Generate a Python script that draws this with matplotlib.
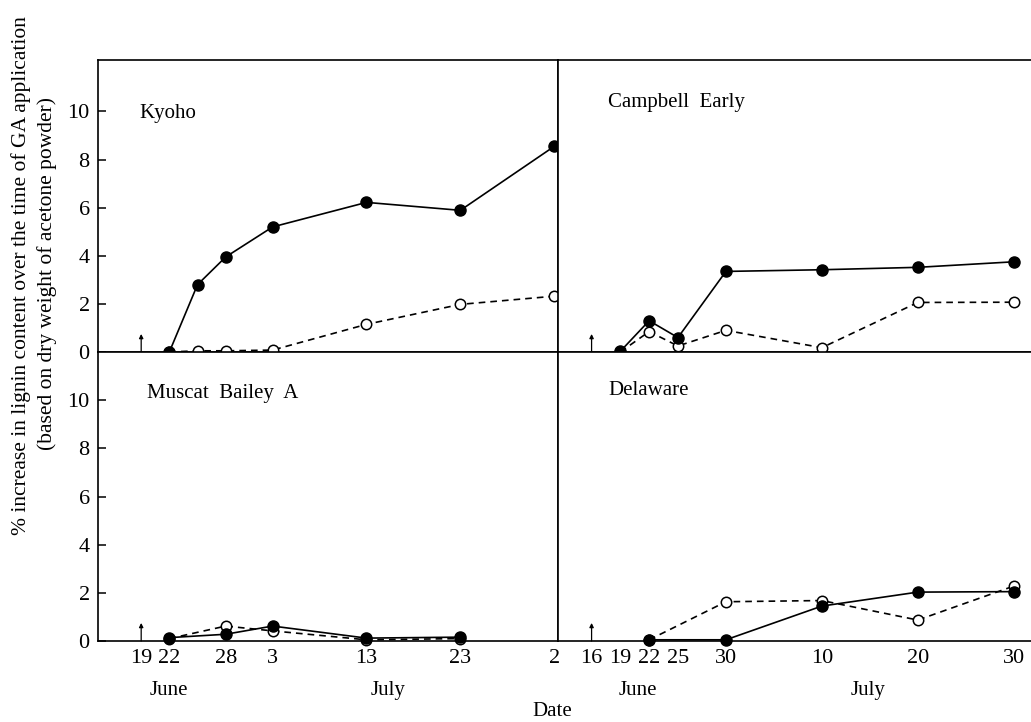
import matplotlib
matplotlib.use('Agg')
import matplotlib.pyplot as plt
from matplotlib.transforms import blended_transform_factory

plt.rcParams['font.family'] = ['Liberation Serif', 'DejaVu Serif']

# dates as days since June 1 (June 19 = 18, July 3 = 32, Aug 2 = 62)
diasKyoho = [21, 24, 27, 32, 42, 52, 62]
kyohoGA = [0.0, 2.8, 3.95, 5.2, 6.22, 5.89, 8.55]
kyohoCtrl = [0.0, 0.05, 0.05, 0.08, 1.15, 1.98, 2.32]

diasMuscat = [21, 27, 32, 42, 52]
muscatGA = [0.14, 0.28, 0.62, 0.12, 0.16]
muscatCtrl = [0.1, 0.62, 0.42, 0.05, 0.1]

diasCampbell = [18, 21, 24, 29, 39, 49, 59]
campbellGA = [0.03, 1.3, 0.6, 3.35, 3.42, 3.52, 3.75]
campbellCtrl = [0.0, 0.85, 0.25, 0.9, 0.18, 2.06, 2.07]

diasDelaware = [21, 29, 39, 49, 59]
delawareGA = [0.05, 0.05, 1.45, 2.03, 2.05]
delawareCtrl = [0.05, 1.63, 1.68, 0.87, 2.28]

# GA application (arrows)
gaKyoho = 18
gaCampbell = 15

ticksIzq = [18, 21, 27, 32, 42, 52, 62]
etiquetasIzq = ['19', '22', '28', '3', '13', '23', '2']
ticksDer = [15, 18, 21, 24, 29, 39, 49, 59]
etiquetasDer = ['16', '19', '22', '25', '30', '10', '20', '30']

fig = plt.figure(figsize=(10.31, 7.22), dpi=100)
W, H = 1031, 722
x0, xm, x1 = 98, 558, 1031
ytop, ymid, ybot = 60, 352, 641

def caja(xa, xb, ya, yb):
    return [xa / W, 1 - yb / H, (xb - xa) / W, (yb - ya) / H]

axKy = fig.add_axes(caja(x0, xm, ytop, ymid))
axCa = fig.add_axes(caja(xm, x1, ytop, ymid))
axMu = fig.add_axes(caja(x0, xm, ymid, ybot))
axDe = fig.add_axes(caja(xm, x1, ymid, ybot))

paneles = [
    (axKy, 'Kyoho', diasKyoho, kyohoGA, kyohoCtrl, gaKyoho, (0.089, 0.818)),
    (axCa, 'Campbell  Early', diasCampbell, campbellGA, campbellCtrl, gaCampbell, (0.106, 0.853)),
    (axMu, 'Muscat  Bailey  A', diasMuscat, muscatGA, muscatCtrl, gaKyoho, (0.107, 0.858)),
    (axDe, 'Delaware', diasDelaware, delawareGA, delawareCtrl, gaCampbell, (0.106, 0.868)),
]

for ax, nombre, dias, ga, ctrl, flecha, pos in paneles:
    ax.plot(dias, ctrl, color='black', lw=1.2, ls=(0, (4, 3)), marker='o',
            ms=7.5, mfc='white', mec='black', mew=1.1, clip_on=False, zorder=3)
    ax.plot(dias, ga, color='black', lw=1.2, marker='o', ms=8, mfc='black',
            mec='black', clip_on=False, zorder=4)
    ax.annotate('', xy=(flecha, 0.75), xytext=(flecha, 0),
                arrowprops=dict(arrowstyle='-|>', color='black', lw=0.9,
                                mutation_scale=6, shrinkA=0, shrinkB=0))
    ax.text(pos[0], pos[1], nombre, transform=ax.transAxes, fontsize=15,
            va='center', ha='left')
    for s in ax.spines.values():
        s.set_linewidth(1.2)

for ax in (axKy, axMu):
    ax.set_xlim(13.4, 62.4)
    ax.set_yticks([0, 2, 4, 6, 8, 10])
    ax.tick_params(axis='y', direction='in', length=6, width=1.1, labelsize=16, pad=6)
for ax in (axCa, axDe):
    ax.set_xlim(11.5, 60.8)
    ax.set_yticks([])
    ax.spines['right'].set_visible(False)

axKy.set_ylim(0, 12.14)
axCa.set_ylim(0, 12.14)
axMu.set_ylim(0, 12.0)
axDe.set_ylim(0, 12.0)

for ax in (axKy, axCa):
    ax.set_xticks([])

axMu.set_xticks(ticksIzq)
axMu.set_xticklabels(etiquetasIzq)
axDe.set_xticks(ticksDer)
axDe.set_xticklabels(etiquetasDer)
for ax in (axMu, axDe):
    ax.tick_params(axis='x', direction='in', length=0, labelsize=16, pad=6)
axMu.set_xticks([62], minor=True)
axDe.set_xticks([18, 39, 49, 59], minor=True)
for ax in (axMu, axDe):
    ax.tick_params(axis='x', which='minor', direction='in', length=6, width=1)

# month labels
for ax, xJun, xJul in [(axMu, 21, 44.3), (axDe, 19.8, 43.8)]:
    tr = blended_transform_factory(ax.transData, ax.transAxes)
    ax.text(xJun, -0.17, 'June', transform=tr, ha='center', va='center', fontsize=15)
    ax.text(xJul, -0.17, 'July', transform=tr, ha='center', va='center', fontsize=15)

fig.text(552 / W, 1 - 712 / H, 'Date', ha='center', va='center', fontsize=15)
fig.text(21 / W, 1 - 276 / H,
         '% increase in lignin content over the time of GA application',
         rotation=90, ha='center', va='center', fontsize=15.5)
fig.text(47 / W, 1 - 274 / H, '(based on dry weight of acetone powder)',
         rotation=90, ha='center', va='center', fontsize=15.5)

fig.savefig('out.png', dpi=100)
